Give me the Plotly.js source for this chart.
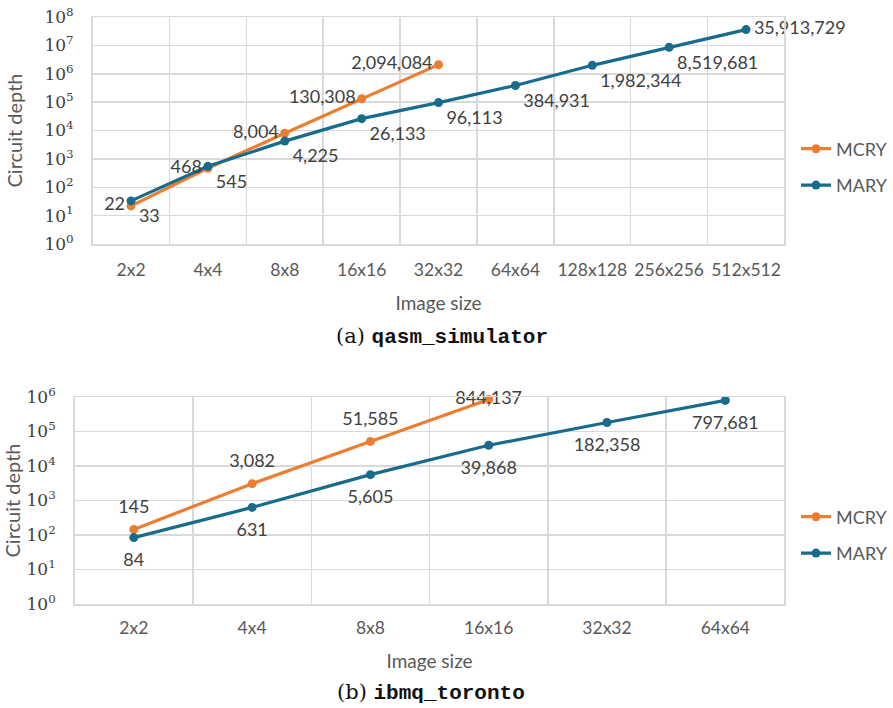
<!DOCTYPE html>
<html>
<head>
<meta charset="utf-8">
<script src="https://cdn.plot.ly/plotly-3.0.1.min.js"></script>
<style>html,body{margin:0;padding:0;background:#fff;}#chart{width:893px;height:708px;}</style>
</head>
<body>
<div id="chart"></div>
<script>
// ---- Data ----
const sizesA = ['2x2','4x4','8x8','16x16','32x32','64x64','128x128','256x256','512x512'];
const mcryA = [22, 468, 8004, 130308, 2094084];
const maryA = [33, 545, 4225, 26133, 96113, 384931, 1982344, 8519681, 35913729];

const sizesB = ['2x2','4x4','8x8','16x16','32x32','64x64'];
const mcryB = [145, 3082, 51585, 844137];
const maryB = [84, 631, 5605, 39868, 182358, 797681];

const yTickValsA = [1,10,100,1e3,1e4,1e5,1e6,1e7,1e8];
const yTickTextA = ['10<sup>0</sup>','10<sup>1</sup>','10<sup>2</sup>','10<sup>3</sup>','10<sup>4</sup>','10<sup>5</sup>','10<sup>6</sup>','10<sup>7</sup>','10<sup>8</sup>'];
const yTickValsB = [1,10,100,1e3,1e4,1e5,1e6];
const yTickTextB = ['10<sup>0</sup>','10<sup>1</sup>','10<sup>2</sup>','10<sup>3</sup>','10<sup>4</sup>','10<sup>5</sup>','10<sup>6</sup>'];

const captionA = ['(a)', 'qasm_simulator'];
const captionB = ['(b)', 'ibmq_toronto'];

// ---- Styles ----
const ORANGE = '#ED7D31';
const BLUE = '#196B8C';
const GRID = '#d9d9d9';
const TXT = '#595959';
const SANS = 'Lato, "Open Sans", sans-serif';
const SERIF = '"DejaVu Serif", "Liberation Serif", serif';

const fmt = v => v.toLocaleString('en-US');

function lineTrace(x, y, name, color, xa, ya, legend, group) {
  return {
    type: 'scatter', mode: 'lines+markers',
    x: x.slice(0, y.length), y: y, name: name,
    xaxis: xa, yaxis: ya,
    line: {color: color, width: 3.2},
    marker: {color: color, size: 9},
    legend: legend, legendgroup: group, showlegend: true, cliponaxis: false
  };
}
function labelTrace(x, y, xa, ya, pos, offsetSize) {
  return {
    type: 'scatter', mode: 'markers+text',
    x: x.slice(0, y.length), y: y, xaxis: xa, yaxis: ya,
    marker: {size: offsetSize, opacity: 0, color: 'rgba(0,0,0,0)'},
    text: y.map(fmt), textposition: pos,
    textfont: {family: SANS, size: 18, color: '#404040'},
    showlegend: false, cliponaxis: false, hoverinfo: 'skip'
  };
}

const posMcryA = ['middle left','middle left','middle left','middle left','middle left'];
const posMaryA = ['bottom right','bottom right','bottom right','bottom right','bottom right','bottom right','bottom right','bottom right','middle right'];
const posMcryB = ['top center','top center','top center','middle center'];
const posMaryB = ['bottom center','bottom center','bottom center','bottom center','bottom center','bottom center'];

const traces = [
  lineTrace(sizesA, mcryA, 'MCRY', ORANGE, 'x', 'y', 'legend', 'a1'),
  lineTrace(sizesA, maryA, 'MARY', BLUE, 'x', 'y', 'legend', 'a2'),
  lineTrace(sizesB, mcryB, 'MCRY', ORANGE, 'x2', 'y2', 'legend2', 'b1'),
  lineTrace(sizesB, maryB, 'MARY', BLUE, 'x2', 'y2', 'legend2', 'b2'),
  labelTrace(sizesA, mcryA, 'x', 'y', posMcryA, 8),
  labelTrace(sizesA, maryA, 'x', 'y', posMaryA, 11),
  labelTrace(sizesB, mcryB, 'x2', 'y2', posMcryB, 18),
  labelTrace(sizesB, maryB, 'x2', 'y2', posMaryB, 22)
];

const W = 893, H = 708;
const px = v => v / W;
const py = v => 1 - v / H;

function xAxis(cats, domain, anchor, lblStandoff, standoff) {
  return {
    type: 'category', categoryorder: 'array', categoryarray: cats,
    range: [-0.5, cats.length - 0.5],
    domain: domain, anchor: anchor,
    tickson: 'boundaries', ticks: '', ticklabelstandoff: lblStandoff,
    tickangle: 0,
    showgrid: true, gridcolor: GRID, gridwidth: 1.5,
    showline: true, linecolor: GRID, linewidth: 1.5, mirror: true,
    tickfont: {family: SANS, size: 17.5, color: TXT},
    title: {text: 'Image size', font: {family: SANS, size: 19, color: TXT}, standoff: standoff},
    zeroline: false, fixedrange: true
  };
}
function yAxis(vals, text, domain, anchor, top, standoff) {
  return {
    type: 'log', range: [0, top], domain: domain, anchor: anchor,
    tickvals: vals, ticktext: text,
    ticks: 'outside', ticklen: 14, tickcolor: 'rgba(0,0,0,0)',
    showgrid: true, gridcolor: GRID, gridwidth: 1.5,
    showline: true, linecolor: GRID, linewidth: 1.5, mirror: true,
    tickfont: {family: SERIF, size: 17, color: '#404040'},
    title: {text: 'Circuit depth', font: {family: SANS, size: 20, color: TXT}, standoff: standoff},
    zeroline: false, fixedrange: true
  };
}

const legendStyle = (yc) => ({
  x: px(800), y: py(yc), xanchor: 'left', yanchor: 'middle',
  font: {family: SANS, size: 18, color: TXT},
  bgcolor: 'rgba(0,0,0,0)', tracegroupgap: 10, itemwidth: 30
});

const mono = "'Liberation Mono', 'DejaVu Sans Mono', monospace";
function caption(parts, y, x) {
  return {
    xref: 'paper', yref: 'paper', x: x, y: y, xanchor: 'center', yanchor: 'middle',
    showarrow: false,
    text: parts[0] + ' <span style="font-family:' + mono + ';font-weight:bold">' + parts[1] + '</span>',
    font: {family: SERIF, size: 21, color: '#111'}
  };
}

const layout = {
  width: W, height: H,
  margin: {l: 0, r: 0, t: 0, b: 0},
  paper_bgcolor: '#fff', plot_bgcolor: '#fff',
  xaxis: xAxis(sizesA, [px(93), px(788)], 'y', 9, 18),
  yaxis: yAxis(yTickValsA, yTickTextA, [py(244), py(17)], 'x', 8, 16),
  xaxis2: xAxis(sizesB, [px(75), px(788)], 'y2', 7, 18),
  yaxis2: yAxis(yTickValsB, yTickTextB, [py(604), py(397)], 'x2', 6, 15),
  legend: legendStyle(167),
  legend2: legendStyle(535),
  annotations: [
    caption(captionA, py(336), px(444)),
    caption(captionB, py(692), px(433))
  ],
  showlegend: true
};

Plotly.newPlot('chart', traces, layout, {displayModeBar: false, staticPlot: true});
</script>
</body>
</html>
